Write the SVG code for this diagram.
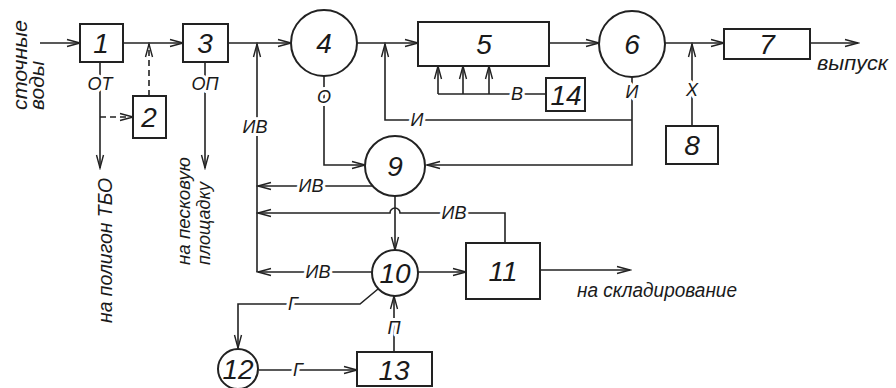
<svg xmlns="http://www.w3.org/2000/svg" width="896" height="388" viewBox="0 0 896 388">
<style>
.n{fill:#fff;stroke:#222;stroke-width:2}
.c{fill:none;stroke:#222;stroke-width:1.6}
.d{stroke-dasharray:6,4}
.num{font-family:"Liberation Sans",Arial,sans-serif;font-style:italic;font-size:28px;fill:#1a1a1a;text-anchor:middle}
.lb{font-family:"Liberation Sans",Arial,sans-serif;font-style:italic;font-size:18px;fill:#1a1a1a;text-anchor:middle;stroke:#fff;stroke-width:6px;paint-order:stroke;stroke-linejoin:round}
.tx{font-family:"Liberation Sans",Arial,sans-serif;font-style:italic;fill:#1a1a1a}
</style>
<defs>
<marker id="a" markerWidth="16" markerHeight="10" refX="14" refY="5" orient="auto" markerUnits="userSpaceOnUse">
<path d="M1,1.5 L14,5 L1,8.5" fill="none" stroke="#222" stroke-width="1.4"/>
</marker>
</defs>
<g id="connectors">
<path class="c" d="M40,43 H80" marker-end="url(#a)"/>
<path class="c" d="M123,43 H183" marker-end="url(#a)"/>
<path class="c d" d="M149,96 V44" marker-end="url(#a)"/>
<path class="c" d="M100,62 V168" marker-end="url(#a)"/>
<path class="c d" d="M100,117 H133" marker-end="url(#a)"/>
<path class="c" d="M205,62 V168" marker-end="url(#a)"/>
<path class="c" d="M228,43 H291" marker-end="url(#a)"/>
<path class="c" d="M257,272 V44" marker-end="url(#a)"/>
<path class="c" d="M357,43 H418" marker-end="url(#a)"/>
<path class="c" d="M632,120 H385 V44" marker-end="url(#a)"/>
<path class="c" d="M632,77 V165 H427" marker-end="url(#a)"/>
<path class="c" d="M324,76 V165 H365" marker-end="url(#a)"/>
<path class="c" d="M549,43 H599" marker-end="url(#a)"/>
<path class="c" d="M546,94 H438"/>
<path class="c" d="M438,94 V66" marker-end="url(#a)"/>
<path class="c" d="M463,94 V66" marker-end="url(#a)"/>
<path class="c" d="M489,94 V66" marker-end="url(#a)"/>
<path class="c" d="M665,43 H724" marker-end="url(#a)"/>
<path class="c" d="M692,126 V44" marker-end="url(#a)"/>
<path class="c" d="M810,43 H858" marker-end="url(#a)"/>
<path class="c" d="M373,186 H258" marker-end="url(#a)"/>
<path class="c" d="M505,243 V213 H400 A5,5 0 0 0 390,213 H258" marker-end="url(#a)"/>
<path class="c" d="M395,196 V250" marker-end="url(#a)"/>
<path class="c" d="M372,272 H258" marker-end="url(#a)"/>
<path class="c" d="M418,272 H466" marker-end="url(#a)"/>
<path class="c" d="M540,270 H630" marker-end="url(#a)"/>
<path class="c" d="M378,289 L360,304 H238 V348" marker-end="url(#a)"/>
<path class="c" d="M259,370 H357" marker-end="url(#a)"/>
<path class="c" d="M394,352 V296" marker-end="url(#a)"/>
<text class="lb" x="100" y="90">ОТ</text>
<text class="lb" x="205" y="90">ОП</text>
<text class="lb" x="255" y="133">ИВ</text>
<text class="lb" x="324" y="103">О</text>
<text class="lb" x="417" y="126">И</text>
<text class="lb" x="632" y="98">И</text>
<text class="lb" x="517" y="100">В</text>
<text class="lb" x="692" y="96">Х</text>
<text class="lb" x="311" y="192">ИВ</text>
<text class="lb" x="454" y="219">ИВ</text>
<text class="lb" x="318" y="278">ИВ</text>
<text class="lb" x="293" y="310">Г</text>
<text class="lb" x="298" y="376">Г</text>
<text class="lb" x="394" y="334">П</text>
</g>
<g id="n1"><rect class="n" x="80" y="24" width="43" height="38"/><text class="num" x="101" y="53">1</text></g>
<g id="n2"><rect class="n" x="133" y="96" width="33" height="42"/><text class="num" x="149" y="127">2</text></g>
<g id="n3"><rect class="n" x="183" y="24" width="45" height="38"/><text class="num" x="205" y="53">3</text></g>
<g id="n4"><circle class="n" cx="324" cy="43" r="33"/><text class="num" x="324" y="53">4</text></g>
<g id="n5"><rect class="n" x="418" y="22" width="131" height="44"/><text class="num" x="484" y="54">5</text></g>
<g id="n6"><circle class="n" cx="632" cy="44" r="33"/><text class="num" x="632" y="54">6</text></g>
<g id="n7"><rect class="n" x="724" y="29" width="86" height="30"/><text class="num" x="767" y="54">7</text></g>
<g id="n8"><rect class="n" x="666" y="126" width="52" height="38"/><text class="num" x="692" y="155">8</text></g>
<g id="n9"><circle class="n" cx="395" cy="166" r="30"/><text class="num" x="395" y="176">9</text></g>
<g id="n10"><circle class="n" cx="395" cy="273" r="23"/><text class="num" x="395" y="283">10</text></g>
<g id="n11"><rect class="n" x="466" y="243" width="74" height="56"/><text class="num" x="503" y="281">11</text></g>
<g id="n12"><circle class="n" cx="238" cy="369" r="20"/><text class="num" x="238" y="379">12</text></g>
<g id="n13"><rect class="n" x="357" y="352" width="75" height="34"/><text class="num" x="394" y="380">13</text></g>
<g id="n14"><rect class="n" x="546" y="78" width="39" height="33"/><text class="num" x="566" y="105">14</text></g>
<g id="texts">
<text class="tx" font-size="21" transform="translate(27,110) rotate(-90)" textLength="90" lengthAdjust="spacingAndGlyphs">сточные</text>
<text class="tx" font-size="21" transform="translate(44,110) rotate(-90)">воды</text>
<text class="tx" font-size="20" transform="translate(112,323) rotate(-90)" textLength="145" lengthAdjust="spacingAndGlyphs">на полигон ТБО</text>
<text class="tx" font-size="19" transform="translate(190,265) rotate(-90)" textLength="108" lengthAdjust="spacingAndGlyphs">на песковую</text>
<text class="tx" font-size="19" transform="translate(210,265) rotate(-90)" textLength="83" lengthAdjust="spacingAndGlyphs">площадку</text>
<text class="tx" font-size="21" x="817" y="70" textLength="71" lengthAdjust="spacingAndGlyphs">выпуск</text>
<text class="tx" font-size="20" x="577" y="297" textLength="160" lengthAdjust="spacingAndGlyphs">на складирование</text>
</g>
</svg>
